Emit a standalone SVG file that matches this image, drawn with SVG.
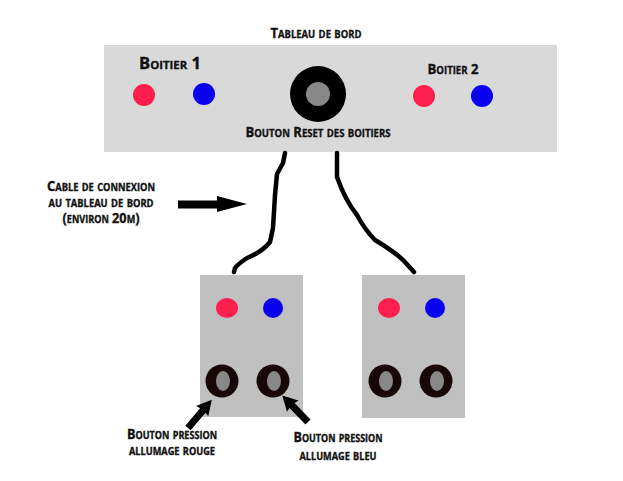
<svg xmlns="http://www.w3.org/2000/svg" width="623" height="481" viewBox="0 0 623 481">
<style>
text{font-family:"Open Sans","DejaVu Sans",sans-serif;font-weight:bold;font-variant:small-caps;fill:#111;stroke:#111;stroke-width:0.35;text-anchor:middle}
.lbl{font-size:14px}
.red{fill:#ff1f4f}
.blue{fill:#0a00f0}
.ring{fill:#180707}
.in{fill:#888}
.cable{fill:none;stroke:#000;stroke-width:4.5;stroke-linecap:round;stroke-linejoin:round}
.arr{fill:#000}
</style>
<defs>
<path id="sarrow" d="M0,-3.5 L23,-3.5 L22,-8 L37,0 L22,8 L23,3.5 L0,3.5 Z"/>
</defs>
<rect width="623" height="481" fill="#fff"/>
<g id="tableau">
<rect x="104" y="45" width="453" height="107" fill="#d9d9d9"/>
<text x="316" y="38" font-size="15" textLength="91" lengthAdjust="spacingAndGlyphs">Tableau de bord</text>
<text x="170" y="69" font-size="16" textLength="62" lengthAdjust="spacingAndGlyphs">Boitier 1</text>
<text x="453" y="74" font-size="15" textLength="51" lengthAdjust="spacingAndGlyphs">Boitier 2</text>
<circle class="red" cx="144" cy="95" r="11"/>
<circle class="blue" cx="204" cy="94" r="11"/>
<circle class="red" cx="424" cy="96" r="11"/>
<circle class="blue" cx="482" cy="96" r="11"/>
<circle cx="318" cy="94" r="28" fill="#000"/>
<circle class="in" cx="318" cy="94" r="12"/>
<text x="318" y="137" font-size="15" textLength="145" lengthAdjust="spacingAndGlyphs">Bouton Reset des boitiers</text>
</g>
<g id="boitier1">
<rect x="200" y="275" width="103" height="142" fill="#c0c0c0"/>
<ellipse class="red" cx="227" cy="308" rx="11" ry="10"/>
<circle class="blue" cx="273" cy="308" r="10"/>
<circle class="ring" cx="222" cy="381" r="16.5"/>
<ellipse class="in" cx="223" cy="381" rx="7" ry="10"/>
<circle class="ring" cx="273" cy="381" r="16.5"/>
<ellipse class="in" cx="274" cy="381" rx="7" ry="10"/>
</g>
<g id="boitier2">
<rect x="362" y="275" width="103" height="143" fill="#c0c0c0"/>
<ellipse class="red" cx="389" cy="308" rx="11" ry="10"/>
<circle class="blue" cx="435" cy="308" r="10"/>
<circle class="ring" cx="385" cy="381" r="16.5"/>
<ellipse class="in" cx="386" cy="381" rx="7" ry="10"/>
<circle class="ring" cx="436" cy="381" r="16.5"/>
<ellipse class="in" cx="437" cy="381" rx="7" ry="10"/>
</g>
<g id="connectors">
<path class="cable" d="M285,153 L283,163 L277,174 L275,195 L273,228 L270,242 Q262,252 247,258 Q238,264 235,268 L234,272"/>
<path class="cable" d="M337,153 L337,177 Q345,200 357,215 Q365,230 375,240 Q395,252 404,261 L414,272"/>
<path class="arr" d="M178,200.5 L217,200.5 L217,196 L247,204 L217,212 L217,208.5 L178,208.5 Z"/>
<use class="arr" href="#sarrow" transform="translate(188,428) rotate(-50)"/>
<use class="arr" href="#sarrow" transform="translate(308,422) rotate(-134)"/>
</g>
<g id="label-cable">
<text class="lbl" x="101" y="191" textLength="108" lengthAdjust="spacingAndGlyphs">Cable de connexion</text>
<text class="lbl" x="101" y="207" textLength="105" lengthAdjust="spacingAndGlyphs">au tableau de bord</text>
<text class="lbl" x="101" y="223" textLength="77" lengthAdjust="spacingAndGlyphs">(environ 20m)</text>
</g>
<g id="label-rouge">
<text class="lbl" x="172" y="439" textLength="90" lengthAdjust="spacingAndGlyphs">Bouton pression</text>
<text class="lbl" x="172" y="455" textLength="86" lengthAdjust="spacingAndGlyphs">allumage rouge</text>
</g>
<g id="label-bleu">
<text class="lbl" x="338" y="442" textLength="89" lengthAdjust="spacingAndGlyphs">Bouton pression</text>
<text class="lbl" x="338" y="460" textLength="77" lengthAdjust="spacingAndGlyphs">allumage bleu</text>
</g>
</svg>
